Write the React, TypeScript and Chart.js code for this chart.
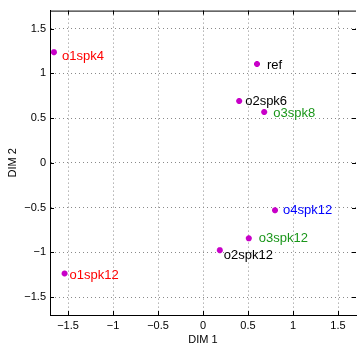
import React, { useEffect, useRef } from "react";
import { Chart, registerables } from "chart.js";

Chart.register(...registerables);

const pointLabels = ["ref", "o1spk4", "o2spk6", "o3spk8", "o1spk12", "o2spk12", "o3spk12", "o4spk12"];
const dim1Values = [0.6, -1.656, 0.402, 0.68, -1.538, 0.187, 0.509, 0.8];
const dim2Values = [1.104, 1.236, 0.69, 0.567, -1.236, -0.976, -0.844, -0.53];
const labelColors = ["#000000", "#ff0000", "#000000", "#1a961a", "#ff0000", "#000000", "#1a961a", "#0000ff"];
const labelDx = [10, 8, 6, 9, 5, 4, 10, 8];
const labelDy = [1, 4, 0, 1, 2, 5, 0, 0];
const tickValues = [-1.5, -1, -0.5, 0, 0.5, 1, 1.5];

const FONT = "'Liberation Sans', Arial, Helvetica, sans-serif";

const fmt = (v: number) => String(v).replace("-", "\u2212");

const decorPlugin = {
  id: "decor",
  afterDraw(chart: any) {
    const ctx = chart.ctx;
    const { left, right, top, bottom } = chart.chartArea;
    const xs = chart.scales.x;
    const ys = chart.scales.y;
    ctx.save();
    ctx.strokeStyle = "#000";
    ctx.lineWidth = 1;
    ctx.setLineDash([]);
    ctx.beginPath();
    ctx.moveTo(left, top + 0.5);
    ctx.lineTo(right, top + 0.5);
    ctx.stroke();
    const tl = 4;
    ctx.beginPath();
    tickValues.forEach((v) => {
      const px = Math.round(xs.getPixelForValue(v)) + 0.5;
      ctx.moveTo(px, bottom);
      ctx.lineTo(px, bottom - tl);
      ctx.moveTo(px, top);
      ctx.lineTo(px, top + tl);
      const py = Math.round(ys.getPixelForValue(v)) + 0.5;
      ctx.moveTo(left, py);
      ctx.lineTo(left + tl, py);
      ctx.moveTo(right, py);
      ctx.lineTo(right - tl, py);
    });
    ctx.stroke();
    ctx.restore();
  },
  afterDatasetsDraw(chart: any) {
    const ctx = chart.ctx;
    const meta = chart.getDatasetMeta(0);
    ctx.save();
    ctx.font = `13px ${FONT}`;
    ctx.textAlign = "left";
    ctx.textBaseline = "middle";
    meta.data.forEach((el: any, i: number) => {
      ctx.fillStyle = labelColors[i];
      ctx.fillText(pointLabels[i], el.x + labelDx[i], el.y + labelDy[i]);
    });
    ctx.restore();
  },
};

export default function App() {
  const ref = useRef<HTMLCanvasElement>(null);
  useEffect(() => {
    if (!ref.current) return;
    const chart = new Chart(ref.current, {
      type: "scatter",
      data: {
        datasets: [
          {
            data: dim1Values.map((x, i) => ({ x, y: dim2Values[i] })),
            pointStyle: "star",
            radius: 3,
            borderColor: "#c800c8",
            backgroundColor: "#c800c8",
            borderWidth: 2,
          },
        ],
      },
      options: {
        responsive: false,
        animation: false,
        layout: { padding: { left: 0, right: 1, top: 5, bottom: 0 } },
        plugins: { legend: { display: false }, tooltip: { enabled: false } },
        scales: {
          x: {
            type: "linear",
            min: -1.7,
            max: 1.7,
            afterBuildTicks: (s: any) => {
              s.ticks = tickValues.map((v) => ({ value: v }));
            },
            afterFit: (s: any) => {
              s.height = 34;
            },
            grid: { color: "#8a8a8a", drawTicks: false, lineWidth: 1 },
            border: { display: true, color: "#000", width: 1, dash: [1, 3] } as any,
            ticks: {
              padding: 4,
              color: "#000",
              font: { family: FONT, size: 11 },
              maxRotation: 0,
              callback: (v: any) => fmt(Number(v)),
            },
            title: {
              display: true,
              text: "DIM 1",
              color: "#000",
              font: { family: FONT, size: 11 },
              padding: { top: 0, bottom: 2 },
            },
          },
          y: {
            type: "linear",
            min: -1.7,
            max: 1.7,
            afterBuildTicks: (s: any) => {
              s.ticks = tickValues.map((v) => ({ value: v }));
            },
            afterFit: (s: any) => {
              s.width = 50;
            },
            grid: { color: "#8a8a8a", drawTicks: false, lineWidth: 1 },
            border: { display: true, color: "#000", width: 1, dash: [1, 3] } as any,
            ticks: {
              padding: 4,
              color: "#000",
              font: { family: FONT, size: 11 },
              callback: (v: any) => fmt(Number(v)),
            },
            title: {
              display: true,
              text: "DIM 2",
              color: "#000",
              font: { family: FONT, size: 11 },
              padding: { top: 6, bottom: 0 },
            },
          },
        },
      },
      plugins: [decorPlugin],
    });
    return () => chart.destroy();
  }, []);
  return (
    <div style={{ position: "fixed", left: 0, top: 0, width: 359, height: 349, overflow: "hidden", background: "#fff" }}>
      <canvas ref={ref} width={362} height={349} style={{ width: 362, height: 349, display: "block" }} />
    </div>
  );
}
